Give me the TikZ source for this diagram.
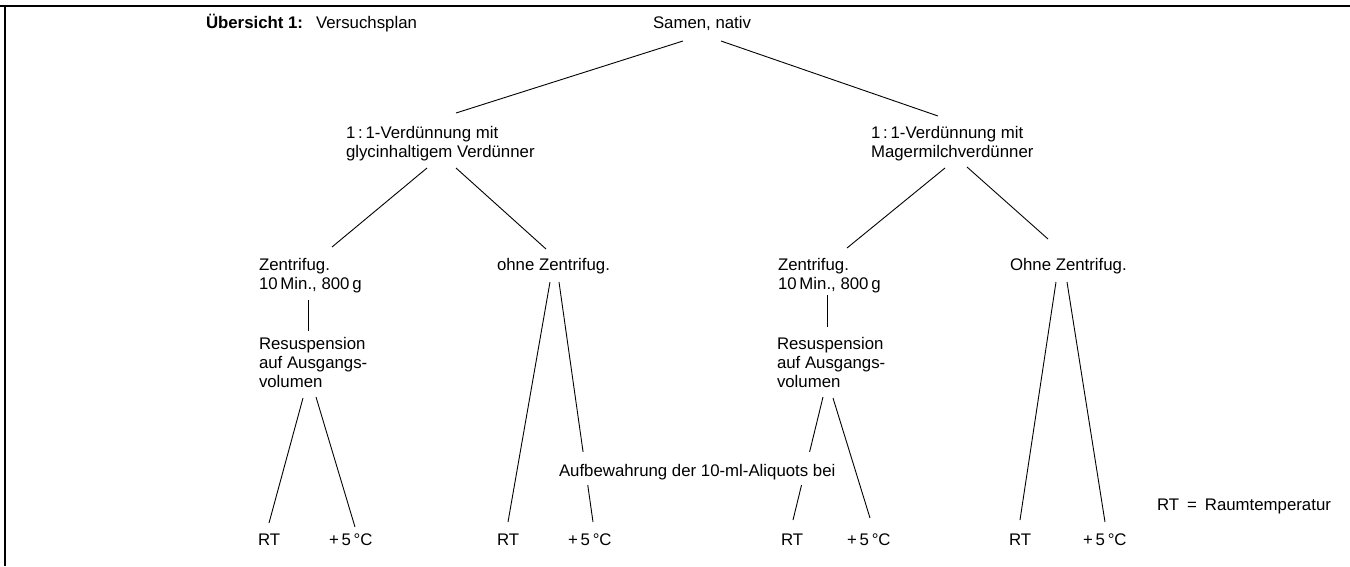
\documentclass[tikz,border=0pt]{standalone}
\usepackage{fontspec}
\setmainfont{Liberation Sans}
\usetikzlibrary{calc}
\begin{document}
\begin{tikzpicture}[x=1pt,y=-1pt,
  lbl/.style={anchor=base west,inner sep=0pt,outer sep=0pt,align=left,
    font=\fontsize{16.8}{18.8}\selectfont},
  conn/.style={line width=0.9pt,black},
  frame/.style={line width=2.2pt,black}]
\useasboundingbox (0,0) rectangle (1350,566);
% frame
\draw[frame] (0,6) -- (1350,6);
\draw[frame] (5,6) -- (5,566);
% nodes (multi-line nodes are placed by the baseline of their last line)
\node[lbl] (title) at (206,28) {\textbf{Übersicht 1:}\hspace*{13pt}Versuchsplan};
\node[lbl] (samen) at (653,28) {Samen, nativ};
\node[lbl] (dilL) at (346,157) {1\,:\,1-Verdünnung mit\\glycinhaltigem Verdünner};
\node[lbl] (dilR) at (871,157) {1\,:\,1-Verdünnung mit\\Magermilchverdünner};
\node[lbl] (zL) at (259,289) {Zentrifug.\\10\,Min., 800\,g};
\node[lbl] (ohneL) at (497,270) {ohne Zentrifug.};
\node[lbl] (zR) at (778,289) {Zentrifug.\\10\,Min., 800\,g};
\node[lbl] (ohneR) at (1010,270) {Ohne Zentrifug.};
\node[lbl] (resL) at (259,387) {Resuspension\\auf Ausgangs-\\volumen};
\node[lbl] (resR) at (777,387) {Resuspension\\auf Ausgangs-\\volumen};
\node[lbl] (rt1) at (258,545) {RT};
\node[lbl] (c1) at (329,545) {+\,5\,°C};
\node[lbl] (rt2) at (497,545) {RT};
\node[lbl] (c2) at (568,545) {+\,5\,°C};
\node[lbl] (rt3) at (781,545) {RT};
\node[lbl] (c3) at (847,545) {+\,5\,°C};
\node[lbl] (rt4) at (1009,545) {RT};
\node[lbl] (c4) at (1083,545) {+\,5\,°C};
\node[lbl] (legend) at (1157,510) {RT\hspace*{8pt}=\hspace*{8pt}Raumtemperatur};
% connectors
\draw[conn] ($(samen.base west)+(30,13)$) -- ($(dilL.base west)+(110,-44)$);
\draw[conn] ($(samen.base west)+(68,13)$) -- ($(dilR.base west)+(67,-41)$);
\draw[conn] ($(dilL.base west)+(81,11)$) -- ($(zL.base west)+(73,-42)$);
\draw[conn] ($(dilL.base west)+(110,11)$) -- ($(ohneL.base west)+(49,-21)$);
\draw[conn] ($(dilR.base west)+(74,11)$) -- ($(zR.base west)+(69,-41)$);
\draw[conn] ($(dilR.base west)+(96,10)$) -- ($(ohneR.base west)+(38,-31)$);
\draw[conn] ($(zL.base west)+(49,11)$) -- ($(resL.base west)+(49,-56)$);
\draw[conn] ($(zR.base west)+(49,6)$) -- ($(resR.base west)+(50,-60)$);
\draw[conn] ($(resL.base west)+(44,11)$) -- ($(rt1.base west)+(11,-22)$);
\draw[conn] ($(resL.base west)+(57,10)$) -- ($(c1.base west)+(26,-18)$);
\draw[conn] ($(ohneL.base west)+(53,12)$) -- ($(rt2.base west)+(11,-23)$);
\draw[conn] ($(ohneL.base west)+(62,12)$) -- ($(c2.base west)+(25,-23)$);
\draw[conn] ($(resR.base west)+(46,10)$) -- ($(rt3.base west)+(12,-25)$);
\draw[conn] ($(resR.base west)+(56,11)$) -- ($(c3.base west)+(23,-27)$);
\draw[conn] ($(ohneR.base west)+(46,12)$) -- ($(rt4.base west)+(11,-25)$);
\draw[conn] ($(ohneR.base west)+(57,12)$) -- ($(c4.base west)+(22,-23)$);
% label across the storage lines (its white ground breaks them)
\node[lbl,fill=white,text height=24pt,text depth=9pt] (aufb) at (559,476) {Aufbewahrung der 10-ml-Aliquots bei};
\end{tikzpicture}
\end{document}
